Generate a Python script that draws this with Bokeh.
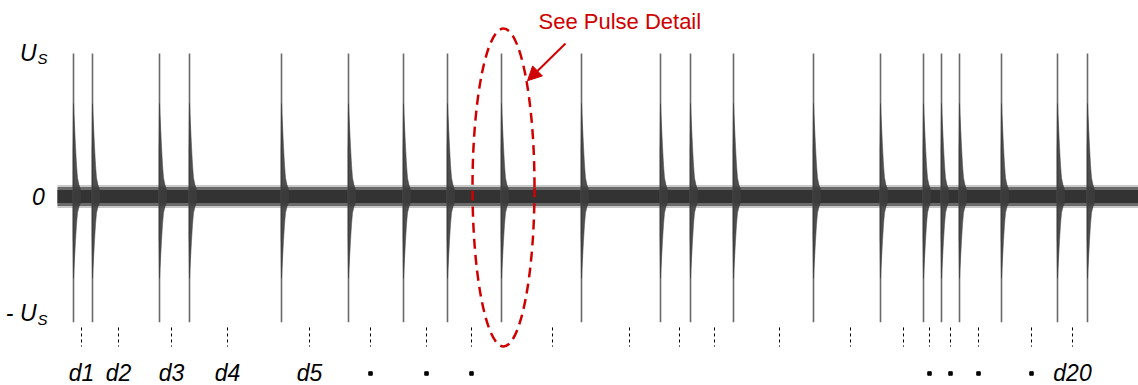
from bokeh.plotting import figure
from bokeh.models import Range1d, Label, Arrow, NormalHead
from bokeh.embed import file_html
from bokeh.resources import INLINE
from bokeh.core.properties import value

# ---- data (time in ms from start of record, amplitude in units of U_S) ----
pulse_times = [16, 35, 102, 132, 224, 291, 346, 390, 444, 524, 603, 633,
               676, 756, 823, 866, 884, 902, 944, 1000, 1030]
interval_marks = [24, 61, 114, 170, 252, 313, 369, 414, 495, 572, 622, 657,
                  722, 793, 846, 872, 893, 921, 974, 1015]
named_idx = [0, 1, 2, 3, 4, 19]
named_text = ["d1", "d2", "d3", "d4", "d5", "d20"]
dot_idx = [5, 6, 7, 15, 16, 17, 18]
pos_peak = 1.0
neg_peak = -0.88
noise_halo = 0.08
noise_outer = 0.066
noise_inner = 0.045
record_start, record_end = 0, 1090
env_dt = [0, 1, 2, 3, 4, 5.5, 7]
env_amp = [0.65, 0.5, 0.35, 0.22, 0.13, 0.08, 0.05]
detail_pulse = 8

RED = "#d00000"
FONT = "Liberation Sans"

p = figure(width=1138, height=385, x_range=Range1d(-57, 1081),
           y_range=Range1d(-1.322, 1.371), output_backend="svg",
           toolbar_location=None, min_border=0,
           x_axis_location=None, y_axis_location=None)
p.grid.visible = False
p.outline_line_color = None

# noise band
xs_band = [record_start, record_end]
p.varea(x=xs_band, y1=[-noise_halo] * 2, y2=[noise_halo] * 2, color="#c8c8c8")
p.varea(x=xs_band, y1=[-noise_outer] * 2, y2=[noise_outer] * 2, color="#6a6a6a")
p.varea(x=xs_band, y1=[-noise_inner] * 2, y2=[noise_inner] * 2, color="#333333")

# pulse spikes
p.segment(x0=pulse_times, y0=[neg_peak] * len(pulse_times), x1=pulse_times,
          y1=[pos_peak] * len(pulse_times), line_color="#6a6a6a", line_width=1.6)

# decaying tails
tail_xs, tail_ys = [], []
ratio = -neg_peak / pos_peak
for t0 in pulse_times:
    up_x = [t0 - 0.6] + [t0 + d for d in env_dt]
    up_y = [env_amp[0] * 0.5] + env_amp
    lo_x = list(reversed(up_x))
    lo_y = [-a * ratio for a in reversed(up_y)]
    tail_xs.append(up_x + lo_x)
    tail_ys.append(up_y + lo_y)
p.patches(xs=tail_xs, ys=tail_ys, fill_color="#3c3c3c", line_color="#3c3c3c",
          line_width=0.5, fill_alpha=0.9)

# interval markers
n = len(interval_marks)
p.segment(x0=interval_marks, y0=[-0.916] * n, x1=interval_marks, y1=[-1.05] * n,
          line_color="black", line_width=1, line_dash="3 3")

p.text(x=[interval_marks[i] for i in named_idx], y=[-1.238] * len(named_idx),
       text=named_text, text_font=value(FONT), text_font_style="italic",
       text_font_size="23px", text_align="center", text_baseline="middle",
       text_color="black")
p.scatter(x=[interval_marks[i] for i in dot_idx], y=[-1.238] * len(dot_idx),
          marker="square", size=3.5, color="black")

# y labels
def ulabel(xd, yv, prefix="", dy=0):
    p.add_layout(Label(x=xd, y=yv, y_offset=dy, text=prefix + "U", text_font=FONT,
                       text_font_style="italic", text_font_size="23px",
                       text_baseline="middle", text_align="right",
                       text_color="black"))
    p.add_layout(Label(x=xd + 1, y=yv, y_offset=dy - 6, text="S", text_font=FONT,
                       text_font_style="italic", text_font_size="15px",
                       text_baseline="middle", text_align="left",
                       text_color="black"))

ulabel(-21, pos_peak, dy=1)
ulabel(-21, neg_peak, prefix="- ", dy=9)
p.add_layout(Label(x=-19, y=0, text="0", text_font=FONT, text_font_style="italic",
                   text_font_size="23px", text_baseline="middle",
                   text_align="center", text_color="black"))

# pulse-detail annotation
tc = pulse_times[detail_pulse] + 2
p.ellipse(x=[tc], y=[0.063], width=62, height=2.224, fill_alpha=0,
          line_color=RED, line_width=2.5, line_dash="10 6")
p.add_layout(Arrow(end=NormalHead(size=14, fill_color=RED, line_color=RED),
                   x_start=tc + 62, y_start=1.07, x_end=tc + 24, y_end=0.81,
                   line_color=RED, line_width=2))
p.add_layout(Label(x=tc + 35, y=1.224, text="See Pulse Detail", text_font=FONT,
                   text_font_size="22px", text_baseline="middle",
                   text_align="left", text_color=RED))

open("out.html", "w").write(file_html(p, INLINE))
